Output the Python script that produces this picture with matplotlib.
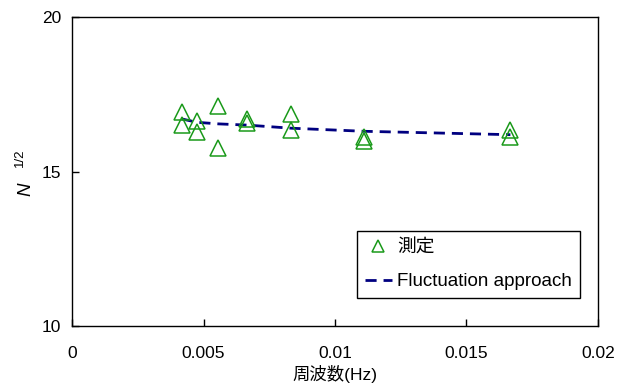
import matplotlib
matplotlib.use("Agg")
import matplotlib.pyplot as plt
from matplotlib.lines import Line2D

plt.rcParams['font.family'] = ['Liberation Sans', 'Noto Sans CJK JP']

# Measured values
freq_meas = [0.00417, 0.00417, 0.00476, 0.00476, 0.00556, 0.00556,
             0.00667, 0.00667, 0.00833, 0.00833, 0.01111, 0.01111,
             0.01667, 0.01667]
n_meas = [16.93, 16.50, 16.63, 16.28, 17.12, 15.76,
          16.70, 16.57, 16.86, 16.34, 16.10, 15.99,
          16.34, 16.10]

# Fluctuation approach curve
freq_fit = [0.00417, 0.00476, 0.00556, 0.00667, 0.00833, 0.01111, 0.01667]
n_fit = [16.70, 16.59, 16.54, 16.50, 16.40, 16.30, 16.19]

xticks = [0, 0.005, 0.01, 0.015, 0.02]
xticklabels = ['0', '0.005', '0.01', '0.015', '0.02']
yticks = [10, 15, 20]

green = '#1a9a1a'
navy = '#000080'

fig = plt.figure(figsize=(6.24, 3.92), dpi=100)
ax = fig.add_axes([0.1154, 0.168, 0.8429, 0.789])

ax.plot(freq_fit, n_fit, linestyle=(0, (4, 2.5)), color=navy, linewidth=2, zorder=2)
ax.plot(freq_meas, n_meas, linestyle='none', marker='^', markersize=11.5,
        markerfacecolor='none', markeredgecolor=green, markeredgewidth=1.1, zorder=3)

ax.set_xlim(0, 0.02)
ax.set_ylim(10, 20)
ax.set_xticks(xticks)
ax.set_xticklabels(xticklabels)
ax.set_yticks(yticks)
ax.tick_params(direction='in', length=5, width=1, labelsize=12.5,
               top=False, right=False)
ax.tick_params(axis='x', pad=14)
ax.tick_params(axis='y', pad=8)
for s in ax.spines.values():
    s.set_linewidth(1)
    s.set_color('black')

ax.set_xlabel('周波数(Hz)', fontsize=12.5, labelpad=3.5)
fig.text(0.042, 0.518, 'N', rotation=90, fontsize=13.5, style='italic',
         ha='center', va='center')
fig.text(0.032, 0.597, '1/2', rotation=90, fontsize=9.5,
         ha='center', va='center')

handles = [
    Line2D([], [], linestyle='none', marker='^', markersize=9,
           markerfacecolor='none', markeredgecolor=green, markeredgewidth=1.1),
    Line2D([], [], linestyle=(0, (4, 2.5)), color=navy, linewidth=2),
]
leg = ax.legend(handles, ['測定', 'Fluctuation approach'], loc='lower right',
                bbox_to_anchor=(0.966, 0.0906), borderaxespad=0,
                fontsize=13.5, frameon=True,
                fancybox=False, edgecolor='black', framealpha=1,
                handlelength=1.45, handletextpad=0.3, borderpad=0.42,
                labelspacing=0.9)
leg.get_frame().set_linewidth(1)

fig.savefig('out.png', dpi=100)
